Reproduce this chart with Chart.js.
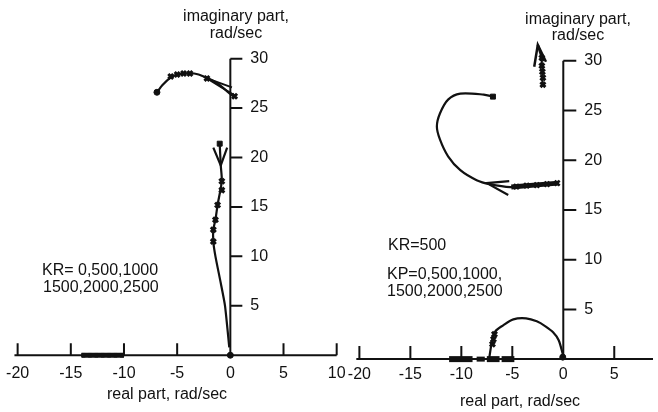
<!DOCTYPE html>
<html><head><meta charset="utf-8">
<script src="https://cdn.jsdelivr.net/npm/chart.js@4/dist/chart.umd.min.js"></script>
<style>
html,body{margin:0;padding:0;background:#fff;overflow:hidden;}
#wrap{position:relative;width:658px;height:412px;}
.box{position:absolute;top:0;height:412px;}
</style></head><body>
<div id="wrap">
<div class="box" style="left:0;width:350px"><canvas id="leftChart"></canvas></div>
<div class="box" style="left:330px;width:330px"><canvas id="rightChart"></canvas></div>
</div>
<script>
// ---------- tick labels ----------
const leftXTicks = [-20, -15, -10, -5, 0, 5, 10];
const rightXTicks = [-20, -15, -10, -5, 0, 5];
const yTicks = [5, 10, 15, 20, 25, 30];

// ---------- LEFT panel (KR varied) ----------
const leftUpperX = [-6.9, -6.4, -5.6, -5.0, -4.2, -3.4, -2.5, -1.2, -0.3, 0.4];
const leftUpperY = [26.6, 27.3, 28.1, 28.4, 28.5, 28.5, 28.2, 27.5, 26.7, 26.1];
const leftUpperMarkX = [-5.6, -5.0, -4.4, -3.8, -2.2, 0.4];
const leftUpperMarkY = [28.2, 28.4, 28.5, 28.5, 28.0, 26.2];
const leftUpperArrowX = [0.15, -2.2, 0.5];
const leftUpperArrowY = [27.1, 28.0, 26.2];

const leftLowerX = [-1.0, -0.9, -0.8, -1.2, -1.4, -1.6, -1.6, -1.4, -0.9, -0.5, -0.1];
const leftLowerY = [21.4, 19.2, 17.6, 15.2, 13.7, 12.7, 11.5, 10.0, 7.3, 5.0, 0.8];
const leftLowerMarkX = [-0.8, -0.8, -1.2, -1.4, -1.6, -1.6];
const leftLowerMarkY = [17.6, 16.7, 15.2, 13.7, 12.7, 11.5];
const leftLowerArrowX = [-1.6, -0.9, -0.3];
const leftLowerArrowY = [21.0, 19.2, 21.0];

const leftRealX = [-14.0, -10.0];
const leftRealY = [0, 0];
const leftRealMarkX = [-13.8, -13.2, -12.6, -12.0, -11.4, -10.8, -10.2];
const leftRealMarkY = [0, 0, 0, 0, 0, 0, 0];

const leftStartDotX = [-6.9, 0];
const leftStartDotY = [26.6, 0];
const leftStartSquareX = [-1.0];
const leftStartSquareY = [21.4];

// ---------- RIGHT panel (KR=500, KP varied) ----------
const rightTopX = [-2.0, -2.0, -2.05, -2.1, -2.1];
const rightTopY = [27.6, 28.3, 28.9, 29.5, 30.3];
const rightTopArrowX = [-2.85, -2.5, -1.7];
const rightTopArrowY = [29.4, 31.6, 29.9];

const rightCX = [-0.5, -2.1, -3.7, -5.2, -7.2, -8.5, -10.1, -11.3, -12.1, -12.4, -12.1, -11.3, -10.1, -7.8, -6.9];
const rightCY = [17.7, 17.6, 17.45, 17.3, 17.6, 18.0, 19.0, 20.4, 22.1, 23.4, 24.7, 26.1, 26.7, 26.6, 26.4];
const rightCBarX = [-0.5, -5.1];
const rightCBarY = [17.7, 17.3];
const rightCMarkX = [-0.6, -1.6, -2.6, -3.6, -4.6];
const rightCMarkY = [17.7, 17.6, 17.5, 17.45, 17.35];
const rightCArrowX = [-5.3, -7.5, -5.4];
const rightCArrowY = [17.9, 17.7, 16.5];

const rightSemiX = [0, -0.45, -1.0, -1.75, -2.6, -3.65, -4.9, -5.9, -6.7, -7.0, -7.25];
const rightSemiY = [0.3, 1.9, 2.7, 3.3, 3.8, 4.1, 4.0, 3.4, 2.75, 1.75, 0.2];
const rightSemiMarkX = [-6.95, -6.85, -6.75];
const rightSemiMarkY = [1.5, 2.0, 2.5];

const rightRealBar1X = [-11.2, -8.9];
const rightRealBar2X = [-8.5, -7.7];
const rightRealBar3X = [-7.5, -6.25];
const rightRealBar4X = [-6.05, -4.8];
const rightRealBarY = [0, 0];

const rightStartDotX = [-0.05];
const rightStartDotY = [0.2];
const rightStartSquareX = [-6.9];
const rightStartSquareY = [26.4];

// ---------- helpers ----------
const INK = '#111';
function pts(xs, ys) { return xs.map((x, i) => ({x: x, y: ys[i]})); }
function line(xs, ys, w, t) {
  return {data: pts(xs, ys), showLine: true, borderColor: INK, backgroundColor: INK,
          borderWidth: w || 2, pointRadius: 0, tension: t || 0, fill: false};
}
function marks(xs, ys, style, r, bw) {
  return {data: pts(xs, ys), showLine: false, borderColor: INK, backgroundColor: INK,
          pointStyle: style || 'crossRot', pointRadius: r || 3.5, borderWidth: bw || 2.5};
}

const axesPlugin = {
  id: 'rlAxes',
  beforeDatasetsDraw(chart, args, o) {
    const ctx = chart.ctx, xs = chart.scales.x, ys = chart.scales.y;
    const x0 = xs.getPixelForValue(0), y0 = ys.getPixelForValue(0);
    ctx.save();
    ctx.strokeStyle = INK; ctx.fillStyle = INK; ctx.lineWidth = 2; ctx.lineCap = 'butt';
    ctx.beginPath();
    ctx.moveTo(xs.getPixelForValue(o.xFrom), y0); ctx.lineTo(xs.getPixelForValue(o.xTo), y0);
    ctx.moveTo(x0, y0 + 1); ctx.lineTo(x0, ys.getPixelForValue(o.yTo));
    o.xTicks.forEach(v => { const p = xs.getPixelForValue(v); ctx.moveTo(p, y0); ctx.lineTo(p, y0 - o.tick); });
    o.yTicks.forEach(v => { const p = ys.getPixelForValue(v); ctx.moveTo(x0, p); ctx.lineTo(x0 + o.tick, p); });
    ctx.stroke();
    ctx.font = o.font; ctx.textBaseline = 'middle';
    ctx.textAlign = 'center';
    o.xTicks.forEach(v => { ctx.fillText(String(v), xs.getPixelForValue(v), y0 + o.xLabelGap); });
    ctx.textAlign = 'left';
    o.yTicks.forEach(v => { ctx.fillText(String(v), x0 + o.yLabelGap, ys.getPixelForValue(v)); });
    ctx.textAlign = 'center';
    o.titles.forEach(t => ctx.fillText(t[0], t[1], t[2]));
    ctx.textAlign = 'left';
    o.notes.forEach(t => ctx.fillText(t[0], t[1], t[2]));
    ctx.restore();
  }
};

function makeChart(id, datasets, xMin, xMax, pad, axOpts) {
  return new Chart(document.getElementById(id), {
    type: 'scatter',
    data: {datasets: datasets},
    options: {
      responsive: true, maintainAspectRatio: false, animation: false,
      layout: {padding: pad},
      plugins: {legend: {display: false}, tooltip: {enabled: false}, rlAxes: axOpts},
      scales: {
        x: {type: 'linear', min: xMin, max: xMax, display: false},
        y: {type: 'linear', min: -2, max: 33, display: false}
      }
    },
    plugins: [axesPlugin]
  });
}

const FONT = '16px "Liberation Sans", Arial, Helvetica, sans-serif';

makeChart('leftChart', [
  line(leftUpperX, leftUpperY, 2.2, 0.3),
  line(leftUpperArrowX, leftUpperArrowY, 2),
  marks(leftUpperMarkX, leftUpperMarkY, 'crossRot', 3.5, 3),
  line(leftLowerX, leftLowerY, 2.2, 0.2),
  line(leftLowerArrowX, leftLowerArrowY, 2.2),
  marks(leftLowerMarkX, leftLowerMarkY, 'crossRot', 3.5, 3),
  line(leftRealX, leftRealY, 5),
  marks(leftRealMarkX, leftRealMarkY, 'rect', 2.5, 1),
  marks(leftStartDotX, leftStartDotY, 'circle', 3, 1),
  marks(leftStartSquareX, leftStartSquareY, 'rect', 3.5, 1)
], -21, 10.5, {left: 5, right: 8, top: 29, bottom: 37}, {
  xFrom: -20.3, xTo: 10.0, yTo: 30, tick: 12, xLabelGap: 18, yLabelGap: 20,
  xTicks: leftXTicks, yTicks: yTicks, font: FONT,
  titles: [['imaginary part,', 236, 17], ['rad/sec', 236, 34], ['real part, rad/sec', 167, 395]],
  notes: [['KR= 0,500,1000', 42, 271], ['1500,2000,2500', 43, 288]]
});

makeChart('rightChart', [
  line(rightTopX, rightTopY, 2),
  line([rightTopX[4], rightTopArrowX[1]], [rightTopY[4], rightTopArrowY[1]], 2.5),
  line(rightTopArrowX, rightTopArrowY, 2.5),
  marks(rightTopX, rightTopY, 'crossRot', 3.5, 3),
  line(rightCX, rightCY, 2.2, 0.3),
  line(rightCBarX, rightCBarY, 5),
  line(rightCArrowX, rightCArrowY, 2.2),
  marks(rightCMarkX, rightCMarkY, 'crossRot', 3.5, 2.5),
  line(rightSemiX, rightSemiY, 2.2, 0.3),
  marks(rightSemiMarkX, rightSemiMarkY, 'crossRot', 3.5, 3),
  line(rightRealBar1X, rightRealBarY, 6),
  line(rightRealBar2X, rightRealBarY, 5),
  line(rightRealBar3X, rightRealBarY, 6),
  line(rightRealBar4X, rightRealBarY, 6),
  marks(rightStartDotX, rightStartDotY, 'circle', 3, 1),
  marks(rightStartSquareX, rightStartSquareY, 'rect', 3.5, 1)
], -22, 8.8, {left: 9, right: 1, top: 31, bottom: 33}, {
  xFrom: -20.3, xTo: 8.8, yTo: 30, tick: 13, xLabelGap: 15, yLabelGap: 21,
  xTicks: rightXTicks, yTicks: yTicks, font: FONT,
  titles: [['imaginary part,', 248, 20], ['rad/sec', 248, 36], ['real part, rad/sec', 190, 402]],
  notes: [['KR=500', 58, 246], ['KP=0,500,1000,', 57, 275], ['1500,2000,2500', 57, 292]]
});
</script>
</body></html>
